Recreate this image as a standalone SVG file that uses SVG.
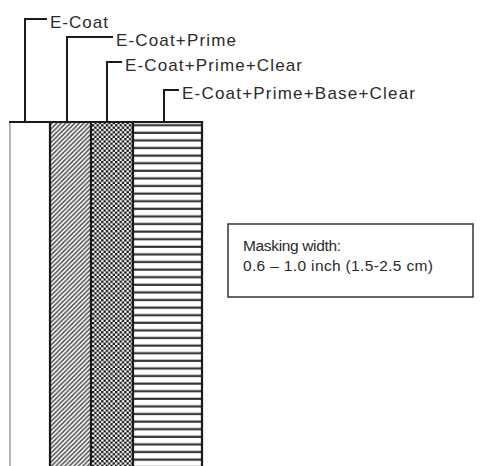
<svg xmlns="http://www.w3.org/2000/svg" width="481" height="466" viewBox="0 0 481 466">
<style>
.lbl{font-family:"Liberation Sans",Arial,sans-serif;font-size:17px;fill:#2a2a2a}
.note{font-family:"Liberation Sans",Arial,sans-serif;font-size:15.5px;fill:#2a2a2a}
.ld{fill:none;stroke:#1a1a1a;stroke-width:2}
.edge{stroke:#1a1a1a;stroke-width:2.2}
</style>
<defs>
<pattern id="diag" width="4.5" height="4.5" patternUnits="userSpaceOnUse">
<rect width="4.5" height="4.5" fill="#fff"/>
<path d="M-1,1 L1,-1 M0,4.5 L4.5,0 M3.5,5.5 L5.5,3.5" stroke="#505050" stroke-width="1.5"/>
</pattern>
<pattern id="check" width="4.6" height="4.6" patternUnits="userSpaceOnUse">
<rect width="4.6" height="4.6" fill="#fff"/>
<rect width="2.3" height="2.3" fill="#111"/>
<rect x="2.3" y="2.3" width="2.3" height="2.3" fill="#111"/>
</pattern>
<pattern id="horiz" width="8" height="7.6" patternUnits="userSpaceOnUse">
<rect width="8" height="7.6" fill="#fff"/>
<rect y="2.5" width="8" height="2.2" fill="#333"/>
</pattern>
</defs>
<rect width="481" height="466" fill="#fff"/>
<g id="layers">
<rect x="10" y="122" width="40" height="350" fill="#fff"/>
<rect x="50" y="122" width="41" height="350" fill="url(#diag)"/>
<rect x="91" y="122" width="42" height="350" fill="url(#check)"/>
<rect x="133" y="122" width="69" height="350" fill="url(#horiz)"/>
<line x1="10" y1="122" x2="10" y2="466" stroke="#888" stroke-width="1.2"/>
<line class="edge" x1="50" y1="122" x2="50" y2="466"/>
<line class="edge" x1="91" y1="122" x2="91" y2="466"/>
<line class="edge" x1="133" y1="122" x2="133" y2="466"/>
<line class="edge" x1="202" y1="121" x2="202" y2="466"/>
<line class="edge" x1="9" y1="122" x2="203" y2="122"/>
</g>
<g id="connectors">
<polyline class="ld" points="25,122 25,19 47,19"/>
<polyline class="ld" points="67,122 67,37 113,37"/>
<polyline class="ld" points="107,122 107,62 122,62"/>
<polyline class="ld" points="164,122 164,90 179,90"/>
</g>
<g id="label-ecoat"><text class="lbl" x="50" y="28" textLength="58">E-Coat</text></g>
<g id="label-ecoat-prime"><text class="lbl" x="116" y="46" textLength="120">E-Coat+Prime</text></g>
<g id="label-ecoat-prime-clear"><text class="lbl" x="125" y="71" textLength="177">E-Coat+Prime+Clear</text></g>
<g id="label-ecoat-prime-base-clear"><text class="lbl" x="182" y="99" textLength="233">E-Coat+Prime+Base+Clear</text></g>
<g id="masking-note">
<rect x="228" y="224" width="245" height="73" fill="#fff" stroke="#333" stroke-width="1.5"/>
<text class="note" x="243" y="251" textLength="98">Masking width:</text>
<text class="note" x="243" y="271" textLength="190">0.6 – 1.0 inch (1.5-2.5 cm)</text>
</g>
</svg>
